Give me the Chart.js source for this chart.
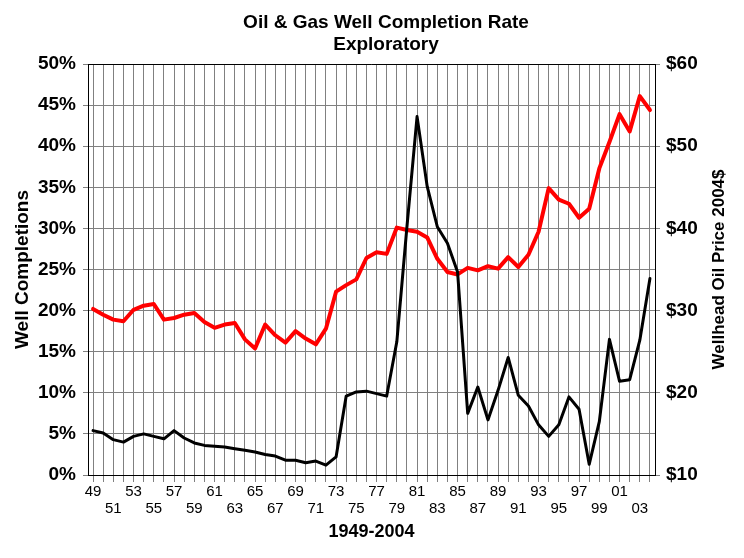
<!DOCTYPE html>
<html lang="en">
<head>
    <meta charset="UTF-8">
    <title>Oil & Gas Well Completion Rate - Exploratory</title>
    <script src="https://cdn.jsdelivr.net/npm/chart.js"></script>
    <style>
        body { margin: 0; background: #fff; }
        canvas { display: block; }
    </style>
</head>
<body>
    <canvas id="wellChart" width="744" height="558"></canvas>
    <script>
        // Years 1949-2004
        const years = ['1949', '1950', '1951', '1952', '1953', '1954', '1955', '1956', '1957', '1958',
                       '1959', '1960', '1961', '1962', '1963', '1964', '1965', '1966', '1967', '1968',
                       '1969', '1970', '1971', '1972', '1973', '1974', '1975', '1976', '1977', '1978',
                       '1979', '1980', '1981', '1982', '1983', '1984', '1985', '1986', '1987', '1988',
                       '1989', '1990', '1991', '1992', '1993', '1994', '1995', '1996', '1997', '1998',
                       '1999', '2000', '2001', '2002', '2003', '2004'];

        // Exploratory well completion rate (%), left axis
        const completionRate = [20.2, 19.5, 18.9, 18.7, 20.1, 20.6, 20.8, 18.9, 19.1, 19.5,
                                19.7, 18.6, 17.9, 18.3, 18.5, 16.5, 15.4, 18.3, 17.0, 16.1,
                                17.5, 16.6, 15.9, 17.8, 22.3, 23.1, 23.8, 26.4, 27.1, 26.9,
                                30.1, 29.8, 29.6, 28.9, 26.3, 24.7, 24.4, 25.2, 24.9, 25.4,
                                25.1, 26.5, 25.3, 26.8, 29.6, 34.9, 33.5, 33.0, 31.3, 32.4,
                                37.3, 40.5, 43.9, 41.8, 46.1, 44.4];

        // Wellhead oil price in 2004 dollars, right axis
        const oilPrice = [15.4, 15.1, 14.3, 14.0, 14.7, 15.0, 14.7, 14.4, 15.4, 14.5,
                          13.9, 13.6, 13.5, 13.4, 13.2, 13.0, 12.8, 12.5, 12.3, 11.8,
                          11.8, 11.5, 11.7, 11.2, 12.2, 19.6, 20.1, 20.2, 19.9, 19.6,
                          26.2, 40.2, 53.6, 45.1, 40.2, 38.2, 34.7, 17.5, 20.7, 16.7,
                          20.3, 24.3, 19.7, 18.4, 16.1, 14.7, 16.1, 19.5, 18.0, 11.3,
                          16.5, 26.5, 21.4, 21.6, 26.4, 33.9];

        const titleLines = ['Oil & Gas Well Completion Rate', 'Exploratory'];
        const FONT = 'Arial, "Liberation Sans", sans-serif';

        // Top border of the plot, the main title and the right axis title
        const extras = {
            id: 'extras',
            afterDraw(chart) {
                const { ctx, chartArea } = chart;
                ctx.save();
                ctx.strokeStyle = '#000';
                ctx.lineWidth = 1;
                ctx.beginPath();
                ctx.moveTo(chartArea.left, chartArea.top + 0.5);
                ctx.lineTo(chartArea.right, chartArea.top + 0.5);
                ctx.stroke();

                ctx.fillStyle = '#000';
                ctx.textAlign = 'center';
                ctx.textBaseline = 'middle';
                ctx.font = 'bold 19px ' + FONT;
                ctx.fillText(titleLines[0], 386, 23);
                ctx.fillText(titleLines[1], 386, 45);

                ctx.font = 'bold 17px ' + FONT;
                ctx.translate(719, (chartArea.top + chartArea.bottom) / 2);
                ctx.rotate(-Math.PI / 2);
                ctx.fillText('Wellhead Oil Price 2004$', 0, 0);
                ctx.restore();
            }
        };

        const ctx = document.getElementById('wellChart').getContext('2d');
        new Chart(ctx, {
            type: 'line',
            data: {
                labels: years,
                datasets: [{
                    label: 'Wellhead Oil Price',
                    data: oilPrice,
                    yAxisID: 'y1',
                    borderColor: '#000000',
                    borderWidth: 3,
                    order: 0
                }, {
                    label: 'Well Completions',
                    data: completionRate,
                    yAxisID: 'y',
                    borderColor: '#ff0000',
                    borderWidth: 4,
                    order: 1
                }]
            },
            options: {
                responsive: false,
                animation: false,
                layout: { padding: { top: 64, left: 0, right: 0, bottom: 0 } },
                elements: {
                    point: { radius: 0 },
                    line: { tension: 0, borderJoinStyle: 'round', borderCapStyle: 'round' }
                },
                plugins: {
                    legend: { display: false },
                    tooltip: { enabled: false }
                },
                scales: {
                    x: {
                        offset: true,
                        grid: { offset: false, color: '#808080', tickLength: 7 },
                        border: { color: '#000', width: 1 },
                        ticks: {
                            autoSkip: false,
                            maxRotation: 0,
                            padding: 1,
                            color: '#000',
                            font: { family: FONT, size: 15, lineHeight: 1.15 },
                            callback(value, index) {
                                const yy = years[index].slice(2);
                                if (index % 4 === 0) return [yy, ''];
                                if (index % 4 === 2) return ['', yy];
                                return '';
                            }
                        },
                        title: {
                            display: true,
                            text: '1949-2004',
                            color: '#000',
                            font: { family: FONT, size: 18, weight: 'bold' },
                            padding: { top: 0, bottom: 15 }
                        },
                        afterFit(scale) { scale.height = 83; }
                    },
                    y: {
                        position: 'left',
                        min: 0,
                        max: 50,
                        grid: { color: '#808080', tickLength: 5 },
                        border: { color: '#000', width: 1 },
                        ticks: {
                            stepSize: 2.5,
                            padding: 7,
                            color: '#000',
                            font: { family: FONT, size: 19, weight: 'bold' },
                            callback: v => (v % 5 === 0 ? v + '%' : '')
                        },
                        title: {
                            display: true,
                            text: 'Well Completions',
                            color: '#000',
                            font: { family: FONT, size: 19, weight: 'bold' },
                            padding: { top: 11, bottom: 0 }
                        },
                        afterFit(scale) { scale.width = 88; }
                    },
                    y1: {
                        position: 'right',
                        min: 10,
                        max: 60,
                        grid: { drawOnChartArea: false, color: '#808080', tickLength: 5 },
                        border: { color: '#000', width: 1 },
                        ticks: {
                            stepSize: 10,
                            padding: 6,
                            color: '#000',
                            font: { family: FONT, size: 19, weight: 'bold' },
                            callback: v => '$' + v
                        },
                        afterFit(scale) { scale.width = 89; }
                    }
                }
            },
            plugins: [extras]
        });
    </script>
</body>
</html>
